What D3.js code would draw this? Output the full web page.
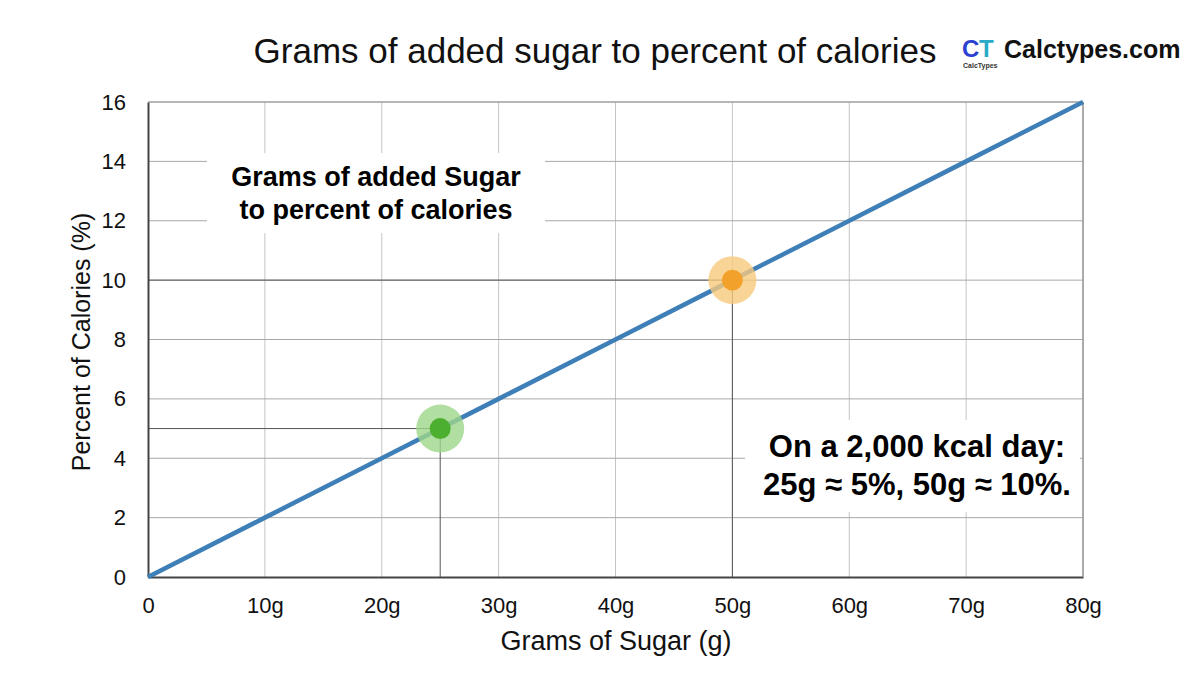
<!DOCTYPE html>
<html>
<head>
<meta charset="utf-8">
<script src="https://cdn.jsdelivr.net/npm/d3@7"></script>
<style>
  body { margin: 0; background: #fff; }
  svg text { font-family: "Liberation Sans", Arial, sans-serif; }
</style>
</head>
<body>
<div id="chart"></div>
<script>
// data
const sugarGrams = [0, 10, 20, 30, 40, 50, 60, 70, 80];
const percentCalories = [0, 2, 4, 6, 8, 10, 12, 14, 16];
const xTicks = [0, 10, 20, 30, 40, 50, 60, 70, 80];
const xTickLabels = ['0', '10g', '20g', '30g', '40g', '50g', '60g', '70g', '80g'];
const yTicks = [0, 2, 4, 6, 8, 10, 12, 14, 16];
const markerGrams = [25, 50];
const markerPercent = [5, 10];
const markerColors = ['#4caf2f', '#f2a22b'];
const markerHalo = ['#9ed78a', '#f7c97d'];
const noteLines = ['Grams of added Sugar', 'to percent of calories'];
const summaryLines = ['On a 2,000 kcal day:', '25g \u2248 5%, 50g \u2248 10%.'];

const width = 1200;
const height = 675;
const plotLeft = 148, plotRight = 1083, plotTop = 102, plotBottom = 577;

const svg = d3.select('#chart').append('svg').attr('width', width).attr('height', height);

const x = d3.scaleLinear().domain([0, 80]).range([plotLeft, plotRight]);
const y = d3.scaleLinear().domain([0, 16]).range([plotBottom, plotTop]);

// grid
svg.append('g').selectAll('line').data(xTicks.slice(1)).join('line')
  .attr('x1', d => x(d)).attr('x2', d => x(d)).attr('y1', plotTop).attr('y2', plotBottom)
  .attr('stroke', '#c4c4c4').attr('stroke-width', 1);
svg.append('g').selectAll('line').data(yTicks.slice(1)).join('line')
  .attr('x1', plotLeft).attr('x2', plotRight).attr('y1', d => y(d)).attr('y2', d => y(d))
  .attr('stroke', '#a8a8a8').attr('stroke-width', 1);

// reference lines to the markers
markerGrams.forEach((g, i) => {
  svg.append('line').attr('x1', plotLeft).attr('x2', x(g))
    .attr('y1', y(markerPercent[i])).attr('y2', y(markerPercent[i]))
    .attr('stroke', '#555').attr('stroke-width', 1);
  svg.append('line').attr('x1', x(g)).attr('x2', x(g))
    .attr('y1', y(markerPercent[i])).attr('y2', plotBottom)
    .attr('stroke', '#555').attr('stroke-width', 1);
});

// axes
const xAxis = svg.append('g').attr('transform', `translate(0,${plotBottom})`)
  .call(d3.axisBottom(x).tickValues(xTicks).tickFormat((d, i) => xTickLabels[i]).tickSize(0).tickPadding(20));
xAxis.select('.domain').attr('stroke', '#444').attr('stroke-width', 2);
xAxis.selectAll('text').attr('font-size', '22px').attr('fill', '#111')
  .style('font-family', '"Liberation Sans", Arial, sans-serif');

const yAxis = svg.append('g').attr('transform', `translate(${plotLeft},0)`)
  .call(d3.axisLeft(y).tickValues(yTicks).tickSize(0).tickPadding(22));
yAxis.select('.domain').attr('stroke', '#444').attr('stroke-width', 2);
yAxis.selectAll('text').attr('font-size', '22px').attr('fill', '#111')
  .style('font-family', '"Liberation Sans", Arial, sans-serif');

// top / right frame
svg.append('line').attr('x1', plotLeft).attr('x2', plotRight).attr('y1', plotTop).attr('y2', plotTop)
  .attr('stroke', '#999').attr('stroke-width', 1);
svg.append('line').attr('x1', plotRight).attr('x2', plotRight).attr('y1', plotTop).attr('y2', plotBottom)
  .attr('stroke', '#999').attr('stroke-width', 1.5);

// series line
const line = d3.line().x((d, i) => x(d)).y((d, i) => y(percentCalories[i]));
svg.append('path').datum(sugarGrams).attr('d', line)
  .attr('fill', 'none').attr('stroke', '#3f7fb8').attr('stroke-width', 4.5);

// markers
svg.append('g').selectAll('circle').data(markerGrams).join('circle')
  .attr('cx', d => x(d)).attr('cy', (d, i) => y(markerPercent[i])).attr('r', 24)
  .attr('fill', (d, i) => markerHalo[i]).attr('fill-opacity', 0.8);
svg.append('g').selectAll('circle').data(markerGrams).join('circle')
  .attr('cx', d => x(d)).attr('cy', (d, i) => y(markerPercent[i])).attr('r', 10.5)
  .attr('fill', (d, i) => markerColors[i]);

// note boxes
svg.append('rect').attr('x', 207).attr('y', 153).attr('width', 338).attr('height', 80).attr('fill', '#fff');
svg.append('g').selectAll('text').data(noteLines).join('text')
  .attr('x', 376).attr('y', (d, i) => 186 + i * 33).attr('text-anchor', 'middle')
  .attr('font-size', '27px').attr('font-weight', 'bold').attr('fill', '#000').text(d => d);

svg.append('rect').attr('x', 745).attr('y', 420).attr('width', 335).attr('height', 92).attr('fill', '#fff');
svg.append('g').selectAll('text').data(summaryLines).join('text')
  .attr('x', 917).attr('y', (d, i) => 457 + i * 38).attr('text-anchor', 'middle')
  .attr('font-size', '31px').attr('font-weight', 'bold').attr('fill', '#000').text(d => d);

// titles
svg.append('text').attr('x', 595).attr('y', 63).attr('text-anchor', 'middle')
  .attr('font-size', '35px').attr('fill', '#111').text('Grams of added sugar to percent of calories');
svg.append('text').attr('x', 616).attr('y', 650).attr('text-anchor', 'middle')
  .attr('font-size', '27px').attr('fill', '#111').text('Grams of Sugar (g)');
svg.append('text').attr('transform', 'translate(90,342) rotate(-90)').attr('text-anchor', 'middle')
  .attr('font-size', '25px').attr('fill', '#111').text('Percent of Calories (%)');

// logo
const logo = svg.append('g');
logo.append('text').attr('x', 962).attr('y', 57).attr('font-size', '24px').attr('font-weight', 'bold')
  .attr('fill', '#2b3fd0').text('C');
logo.append('text').attr('x', 979).attr('y', 57).attr('font-size', '24px').attr('font-weight', 'bold')
  .attr('fill', '#2aa9c9').text('T');
logo.append('text').attr('x', 963).attr('y', 68).attr('font-size', '7px').attr('font-weight', 'bold')
  .attr('fill', '#333').text('CalcTypes');
logo.append('text').attr('x', 1004).attr('y', 58).attr('font-size', '25px').attr('font-weight', 'bold')
  .attr('fill', '#111').text('Calctypes.com');
</script>
</body>
</html>
